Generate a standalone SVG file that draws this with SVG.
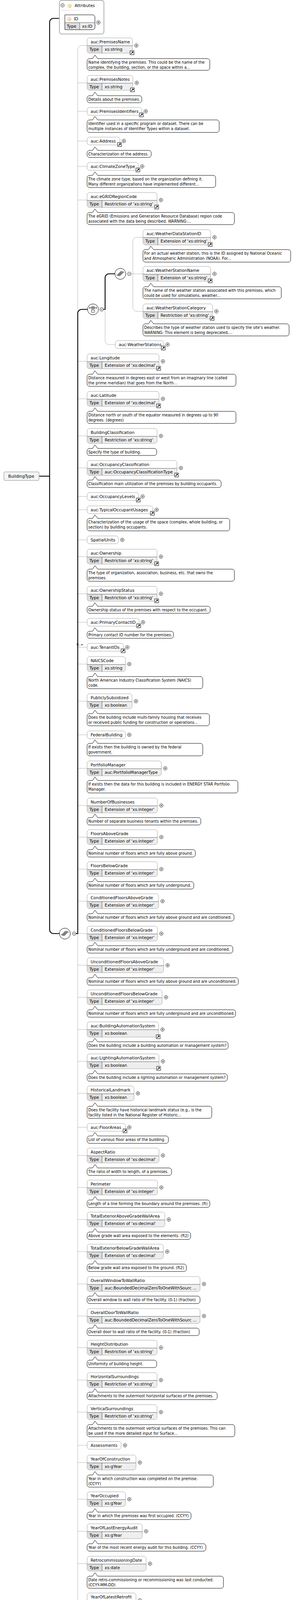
<svg xmlns="http://www.w3.org/2000/svg" width="750" height="4682" viewBox="0 0 750 4682">
<style>
.f{fill:#eeeeee}.w{fill:#ffffff}.tc{fill:#dedede}.o{fill:none;stroke:#a4a4a4;stroke-width:1}
.dv{fill:none;stroke:#333;stroke-width:.8}.s{fill:#fff;stroke:#a4a4a4;stroke-width:1}
.bb{fill:#fff;stroke:#000;stroke-width:1}
.n{font-family:"DejaVu Sans",sans-serif;font-size:10.5px;fill:#000}
.d{font-family:"DejaVu Sans",sans-serif;font-size:9.6px;fill:#000}
.at{font-family:"DejaVu Sans",sans-serif;font-size:11px;fill:#e9a13b}
.cg{fill:none;stroke:#b4b4b4;stroke-width:1}
.ck{fill:none;stroke:#000;stroke-width:2.2}
.ic{fill:#9a9a9a;stroke:#222;stroke-width:.7}
</style>
<defs>
<linearGradient id="sep" x1="0" x2="1" y1="0" y2="0"><stop offset="0" stop-color="#e4e4e4"/><stop offset="1" stop-color="#ffffff"/></linearGradient>
<g id="pl"><circle r="4.5" fill="#fff" stroke="#000" stroke-width=".9"/><path d="M-2.4 0H2.4M0-2.4V2.4" stroke="#000" stroke-width=".9"/></g>
<g id="mi"><circle r="4.5" fill="#fff" stroke="#000" stroke-width=".9"/><path d="M-2.4 0H2.4" stroke="#000" stroke-width=".9"/></g>
<g id="lk"><rect width="10" height="10" fill="#fff" stroke="#000" stroke-width="1"/><path d="M2.3 7.7L6.3 3.7" stroke="#000" stroke-width="1.6"/><path d="M3.8 2H8V6.2Z" fill="#000"/></g>
<g id="sq"><circle r="14" fill="#fff" stroke="#000" stroke-width="1"/><path d="M-10 3H-6M6-4H10" stroke="#000" stroke-width="1"/><rect class="ic" x="-6" y="0" width="6" height="5"/><rect class="ic" x="-3" y="-3" width="6" height="5"/><rect class="ic" x="0" y="-6" width="6" height="5"/></g>
<g id="ch"><circle r="14" fill="#fff" stroke="#000" stroke-width="1"/><path d="M-9-4H9M-9-6.5V-1.5M9-6.5V-1.5" stroke="#000" stroke-width="1"/><rect class="ic" x="-3.5" y="-7" width="7" height="6"/><rect x="-3.5" y="1.5" width="7" height="6" fill="#fff" stroke="#000" stroke-width=".8"/></g>
</defs>
<rect width="750" height="4682" fill="#fff"/>

<g id="connectors">
<path class="cg" d="M223 116.5H209a10 10 0 0 0-10 10V4656a10 10 0 0 0 10 10H223"/>
<path class="cg" d="M199 212H223M199 285H223M199 361H223M199 426H223M199 512H223M199 925H223M199 1021H223M199 1116H223M199 1198H223M199 1271H223M199 1305H223M199 1382H223M199 1425H223M199 1520H223M199 1593H223M199 1657H223M199 1700H223M199 1795H223M199 1881H223M199 1967H223M199 2062H223M199 2143H223M199 2225H223M199 2307H223M199 2390H223M199 2471H223M199 2553H223M199 2635.5H223M199 2717H223M199 2799H223M199 2886H223M199 2958H223M199 3040H223M199 3122H223M199 3204H223M199 3287H223M199 3369H223M199 3450H223M199 3533H223M199 3615H223M199 3700H223M199 3744H223M199 3838H223M199 3920H223M199 4003H223M199 4097H223M199 4192H223M199 4287H223M199 4382H223M199 4477H223M199 4559H223M199 4633H223"/>
<path class="cg" d="M269 792V872a10 10 0 0 0 10 10H295"/>
<path class="cg" d="M366 607.5H350a10 10 0 0 0-10 10V787a10 10 0 0 0 10 10H366M335.5 701H366"/>
<path class="ck" d="M152 47H137a10 10 0 0 0-10 10V2380a10 10 0 0 0 10 10H152"/>
<path class="ck" d="M100 1219H127"/>
<path class="ck" d="M194.5 2390H199V802a10 10 0 0 1 10-10H224"/>
<path class="ck" d="M264.5 792H269V711a10 10 0 0 1 10-10H294"/>
</g>

<g id="BuildingType">
<rect x="10" y="1208" width="90" height="22" rx="3" fill="#f4f4f4" stroke="#888" stroke-width="1"/>
<text class="n" x="21" y="1223">BuildingType</text>
</g>

<g id="Attributes">
<rect x="152" y="1" width="114" height="86" rx="6" fill="#fff" stroke="#b0b0b0" stroke-width="2"/>
<use href="#mi" x="160" y="13.5"/>
<text class="at" x="173" y="18">@</text>
<text class="n" x="191" y="18">Attributes</text>
<rect x="157" y="25.5" width="84" height="2" fill="url(#sep)"/>
<path d="M166 38H237a6 6 0 0 1 6 6V70a6 6 0 0 1-6 6H166Z" fill="#eee"/>
<rect x="166" y="38" width="77" height="20" fill="#fff"/>
<rect x="166.5" y="58" width="37.5" height="17.5" class="tc"/>
<path d="M166 38H237a6 6 0 0 1 6 6V70a6 6 0 0 1-6 6H166Z" fill="none" stroke="#000" stroke-width="1"/>
<path class="dv" d="M166 58H243M204 58V76"/>
<text class="at" x="172" y="52">@</text>
<text class="n" x="189" y="52">ID</text>
<text class="n" x="171" y="71">Type</text>
<text class="n" x="210" y="71">xs:ID</text>
<use href="#pl" x="252" y="57.5"/>
</g>

<g id="compositors">
<use href="#sq" x="166" y="2390"/><use href="#mi" x="190" y="2390"/>
<use href="#ch" x="238" y="792"/><use href="#mi" x="260" y="792"/>
<use href="#sq" x="308" y="701"/><use href="#mi" x="331" y="701"/>
<text class="d" x="196" y="1653" style="font-size:8px">0..∞</text>
</g>

<g id="PremisesName">
<rect class="f" x="223" y="97" width="116" height="39" rx="6"/><rect class="w" x="223" y="97" width="116" height="20"/><path class="tc" d="M223.5 117h37.5v18.5h-31.5a6 6 0 0 1-6-6z"/><rect class="o" x="223" y="97" width="116" height="39" rx="6"/><path class="dv" d="M223 117H339M261 117V136"/>
<text class="n" x="232" y="111">auc:PremisesName</text><text class="n" x="229" y="130">Type</text><text class="n" x="268" y="130">xs:string</text>
<use href="#pl" x="349" y="116.5"/><use href="#lk" x="333" y="130"/>
<path class="bb" d="M229 150h8l6-9l7 9h281a6 6 0 0 1 6 6v18a6 6 0 0 1-6 6h-302a6 6 0 0 1-6-6v-18a6 6 0 0 1 6-6z"/>
<text class="d" x="226" y="163">Name identifying the premises. This could be the name of the</text><text class="d" x="226" y="176">complex, the building, section, or the space within a...</text>
</g>

<g id="PremisesNotes">
<rect class="f" x="223" y="193" width="117" height="38" rx="6"/><rect class="w" x="223" y="193" width="117" height="20"/><path class="tc" d="M223.5 213h37.5v17.5h-31.5a6 6 0 0 1-6-6z"/><rect class="o" x="223" y="193" width="117" height="38" rx="6"/><path class="dv" d="M223 213H340M261 213V231"/>
<text class="n" x="232" y="207">auc:PremisesNotes</text><text class="n" x="229" y="226">Type</text><text class="n" x="268" y="226">xs:string</text>
<use href="#pl" x="350" y="212"/><use href="#lk" x="334" y="225"/>
<path class="bb" d="M229 245h8l6-9l7 9h107a6 6 0 0 1 6 6v6a6 6 0 0 1-6 6h-128a6 6 0 0 1-6-6v-6a6 6 0 0 1 6-6z"/>
<text class="d" x="226" y="258">Details about the premises.</text>
</g>

<g id="PremisesIdentifiers">
<rect class="s" x="223" y="275" width="140" height="20" rx="6"/>
<text class="n" x="232" y="289">auc:PremisesIdentifiers</text>
<use href="#pl" x="373" y="285"/><use href="#lk" x="357" y="289"/>
<path class="bb" d="M229 307h8l6-9l7 9h305a6 6 0 0 1 6 6v20a6 6 0 0 1-6 6h-326a6 6 0 0 1-6-6v-20a6 6 0 0 1 6-6z"/>
<text class="d" x="226" y="320">Identifier used in a specific program or dataset. There can be</text><text class="d" x="226" y="333">multiple instances of Identifier Types within a dataset.</text>
</g>

<g id="Address">
<rect class="s" x="223" y="351" width="84" height="20" rx="6"/>
<text class="n" x="232" y="365">auc:Address</text>
<use href="#pl" x="317" y="361"/><use href="#lk" x="301" y="365"/>
<path class="bb" d="M229 385h8l6-9l7 9h131a6 6 0 0 1 6 6v6a6 6 0 0 1-6 6h-152a6 6 0 0 1-6-6v-6a6 6 0 0 1 6-6z"/>
<text class="d" x="226" y="398">Characterization of the address.</text>
</g>

<g id="ClimateZoneType">
<rect class="s" x="223" y="416" width="131" height="20" rx="6"/>
<text class="n" x="232" y="430">auc:ClimateZoneType</text>
<use href="#pl" x="364" y="426"/><use href="#lk" x="348" y="430"/>
<path class="bb" d="M229 449h8l6-9l7 9h296a6 6 0 0 1 6 6v19a6 6 0 0 1-6 6h-317a6 6 0 0 1-6-6v-19a6 6 0 0 1 6-6z"/>
<text class="d" x="226" y="462">The climate zone type, based on the organization defining it.</text><text class="d" x="226" y="475">Many different organizations have implemented different...</text>
</g>

<g id="eGRIDRegionCode">
<rect class="f" x="223" y="493" width="179" height="38" rx="6"/><rect class="w" x="223" y="493" width="179" height="20"/><path class="tc" d="M223.5 513h37.5v17.5h-31.5a6 6 0 0 1-6-6z"/><rect class="o" x="223" y="493" width="179" height="38" rx="6"/><path class="dv" d="M223 513H402M261 513V531"/>
<text class="n" x="232" y="507">auc:eGRIDRegionCode</text><text class="n" x="229" y="526">Type</text><text class="n" x="268" y="526">Restriction of 'xs:string'</text>
<use href="#pl" x="412" y="512"/><use href="#lk" x="396" y="525"/>
<path class="bb" d="M229 544h8l6-9l7 9h344a6 6 0 0 1 6 6v19a6 6 0 0 1-6 6h-365a6 6 0 0 1-6-6v-19a6 6 0 0 1 6-6z"/>
<text class="d" x="226" y="557">The eGRID (Emissions and Generation Resource Database) region code</text><text class="d" x="226" y="570">associated with the data being described. WARNING:...</text>
</g>

<g id="WeatherDataStationID">
<rect class="f" x="366" y="588" width="173" height="39" rx="6"/><rect class="w" x="366" y="588" width="173" height="20"/><path class="tc" d="M366.5 608h37.5v18.5h-31.5a6 6 0 0 1-6-6z"/><rect class="o" x="366" y="588" width="173" height="39" rx="6"/><path class="dv" d="M366 608H539M404 608V627"/>
<text class="n" x="375" y="602">auc:WeatherDataStationID</text><text class="n" x="372" y="621">Type</text><text class="n" x="411" y="621">Extension of 'xs:string'</text>
<use href="#pl" x="549" y="607.5"/><use href="#lk" x="533" y="621"/>
<path class="bb" d="M372 639h8l6-9l7 9h345a6 6 0 0 1 6 6v20a6 6 0 0 1-6 6h-366a6 6 0 0 1-6-6v-20a6 6 0 0 1 6-6z"/>
<text class="d" x="369" y="652">For an actual weather station, this is the ID assigned by National Oceanic</text><text class="d" x="369" y="665">and Atmospheric Administration (NOAA). For...</text>
</g>

<g id="WeatherStationName">
<rect class="f" x="366" y="682" width="173" height="38" rx="6"/><rect class="w" x="366" y="682" width="173" height="20"/><path class="tc" d="M366.5 702h37.5v17.5h-31.5a6 6 0 0 1-6-6z"/><rect class="o" x="366" y="682" width="173" height="38" rx="6"/><path class="dv" d="M366 702H539M404 702V720"/>
<text class="n" x="375" y="696">auc:WeatherStationName</text><text class="n" x="372" y="715">Type</text><text class="n" x="411" y="715">Extension of 'xs:string'</text>
<use href="#pl" x="549" y="701"/><use href="#lk" x="533" y="714"/>
<path class="bb" d="M372 734h8l6-9l7 9h321a6 6 0 0 1 6 6v19a6 6 0 0 1-6 6h-342a6 6 0 0 1-6-6v-19a6 6 0 0 1 6-6z"/>
<text class="d" x="369" y="747">The name of the weather station associated with this premises, which</text><text class="d" x="369" y="760">could be used for simulations, weather...</text>
</g>

<g id="WeatherStationCategory">
<rect class="f" x="366" y="778" width="178" height="38" rx="6"/><rect class="w" x="366" y="778" width="178" height="20"/><path class="tc" d="M366.5 798h37.5v17.5h-31.5a6 6 0 0 1-6-6z"/><rect class="o" x="366" y="778" width="178" height="38" rx="6"/><path class="dv" d="M366 798H544M404 798V816"/>
<text class="n" x="375" y="792">auc:WeatherStationCategory</text><text class="n" x="372" y="811">Type</text><text class="n" x="411" y="811">Restriction of 'xs:string'</text>
<use href="#pl" x="554" y="797"/><use href="#lk" x="538" y="810"/>
<path class="bb" d="M372 829h8l6-9l7 9h341a6 6 0 0 1 6 6v19a6 6 0 0 1-6 6h-362a6 6 0 0 1-6-6v-19a6 6 0 0 1 6-6z"/>
<text class="d" x="369" y="842">Describes the type of weather station used to specify the site's weather.</text><text class="d" x="369" y="855">WARNING: This element is being deprecated,...</text>
</g>

<g id="WeatherStations">
<rect class="s" x="295" y="872" width="124" height="20" rx="6"/>
<text class="n" x="304" y="886">auc:WeatherStations</text>
<use href="#pl" x="429" y="882"/><use href="#lk" x="413" y="886"/>
</g>

<g id="Longitude">
<rect class="f" x="223" y="906" width="184" height="38" rx="6"/><rect class="w" x="223" y="906" width="184" height="20"/><path class="tc" d="M223.5 926h37.5v17.5h-31.5a6 6 0 0 1-6-6z"/><rect class="o" x="223" y="906" width="184" height="38" rx="6"/><path class="dv" d="M223 926H407M261 926V944"/>
<text class="n" x="232" y="920">auc:Longitude</text><text class="n" x="229" y="939">Type</text><text class="n" x="268" y="939">Extension of 'xs:decimal'</text>
<use href="#pl" x="417" y="925"/><use href="#lk" x="401" y="938"/>
<path class="bb" d="M229 958h8l6-9l7 9h348a6 6 0 0 1 6 6v19a6 6 0 0 1-6 6h-369a6 6 0 0 1-6-6v-19a6 6 0 0 1 6-6z"/>
<text class="d" x="226" y="971">Distance measured in degrees east or west from an imaginary line (called</text><text class="d" x="226" y="984">the prime meridian) that goes from the North...</text>
</g>

<g id="Latitude">
<rect class="f" x="223" y="1002" width="184" height="38" rx="6"/><rect class="w" x="223" y="1002" width="184" height="20"/><path class="tc" d="M223.5 1022h37.5v17.5h-31.5a6 6 0 0 1-6-6z"/><rect class="o" x="223" y="1002" width="184" height="38" rx="6"/><path class="dv" d="M223 1022H407M261 1022V1040"/>
<text class="n" x="232" y="1016">auc:Latitude</text><text class="n" x="229" y="1035">Type</text><text class="n" x="268" y="1035">Extension of 'xs:decimal'</text>
<use href="#pl" x="417" y="1021"/><use href="#lk" x="401" y="1034"/>
<path class="bb" d="M229 1053h8l6-9l7 9h348a6 6 0 0 1 6 6v19a6 6 0 0 1-6 6h-369a6 6 0 0 1-6-6v-19a6 6 0 0 1 6-6z"/>
<text class="d" x="226" y="1066">Distance north or south of the equator measured in degrees up to 90</text><text class="d" x="226" y="1079">degrees. (degrees)</text>
</g>

<g id="BuildingClassification">
<rect class="f" x="223" y="1097" width="179" height="38" rx="6"/><rect class="w" x="223" y="1097" width="179" height="20"/><path class="tc" d="M223.5 1117h37.5v17.5h-31.5a6 6 0 0 1-6-6z"/><rect class="o" x="223" y="1097" width="179" height="38" rx="6"/><path class="dv" d="M223 1117H402M261 1117V1135"/>
<text class="n" x="232" y="1111">BuildingClassification</text><text class="n" x="229" y="1130">Type</text><text class="n" x="268" y="1130">Restriction of 'xs:string'</text>
<use href="#pl" x="412" y="1116"/>
<path class="bb" d="M229 1148h8l6-9l7 9h145a6 6 0 0 1 6 6v6a6 6 0 0 1-6 6h-166a6 6 0 0 1-6-6v-6a6 6 0 0 1 6-6z"/>
<text class="d" x="226" y="1161">Specify the type of building.</text>
</g>

<g id="OccupancyClassification">
<rect class="f" x="223" y="1179" width="230" height="38" rx="6"/><rect class="w" x="223" y="1179" width="230" height="20"/><path class="tc" d="M223.5 1199h37.5v17.5h-31.5a6 6 0 0 1-6-6z"/><rect class="o" x="223" y="1179" width="230" height="38" rx="6"/><path class="dv" d="M223 1199H453M261 1199V1217"/>
<text class="n" x="232" y="1193">auc:OccupancyClassification</text><text class="n" x="229" y="1212">Type</text><text class="n" x="268" y="1212">auc:OccupancyClassificationType</text>
<use href="#pl" x="463" y="1198"/><use href="#lk" x="447" y="1211"/>
<path class="bb" d="M229 1229h8l6-9l7 9h310a6 6 0 0 1 6 6v7a6 6 0 0 1-6 6h-331a6 6 0 0 1-6-6v-7a6 6 0 0 1 6-6z"/>
<text class="d" x="226" y="1242">Classification main utilization of the premises by building occupants.</text>
</g>

<g id="OccupancyLevels">
<rect class="s" x="223" y="1261" width="132" height="20" rx="6"/>
<text class="n" x="232" y="1275">auc:OccupancyLevels</text>
<use href="#pl" x="365" y="1271"/><use href="#lk" x="349" y="1275"/>
</g>

<g id="TypicalOccupantUsages">
<rect class="s" x="223" y="1295" width="168" height="20" rx="6"/>
<text class="n" x="232" y="1309">auc:TypicalOccupantUsages</text>
<use href="#pl" x="401" y="1305"/><use href="#lk" x="385" y="1309"/>
<path class="bb" d="M229 1327h8l6-9l7 9h332a6 6 0 0 1 6 6v20a6 6 0 0 1-6 6h-353a6 6 0 0 1-6-6v-20a6 6 0 0 1 6-6z"/>
<text class="d" x="226" y="1340">Characterization of the usage of the space (complex, whole building, or</text><text class="d" x="226" y="1353">section) by building occupants.</text>
</g>

<g id="SpatialUnits">
<rect class="s" x="223" y="1372" width="80" height="20" rx="6"/>
<text class="n" x="232" y="1386">SpatialUnits</text>
<use href="#pl" x="313" y="1382"/>
</g>

<g id="Ownership">
<rect class="f" x="223" y="1406" width="179" height="38" rx="6"/><rect class="w" x="223" y="1406" width="179" height="20"/><path class="tc" d="M223.5 1426h37.5v17.5h-31.5a6 6 0 0 1-6-6z"/><rect class="o" x="223" y="1406" width="179" height="38" rx="6"/><path class="dv" d="M223 1426H402M261 1426V1444"/>
<text class="n" x="232" y="1420">auc:Ownership</text><text class="n" x="229" y="1439">Type</text><text class="n" x="268" y="1439">Restriction of 'xs:string'</text>
<use href="#pl" x="412" y="1425"/><use href="#lk" x="396" y="1438"/>
<path class="bb" d="M229 1457h8l6-9l7 9h344a6 6 0 0 1 6 6v19a6 6 0 0 1-6 6h-365a6 6 0 0 1-6-6v-19a6 6 0 0 1 6-6z"/>
<text class="d" x="226" y="1470">The type of organization, association, business, etc. that owns the</text><text class="d" x="226" y="1483">premises.</text>
</g>

<g id="OwnershipStatus">
<rect class="f" x="223" y="1501" width="179" height="38" rx="6"/><rect class="w" x="223" y="1501" width="179" height="20"/><path class="tc" d="M223.5 1521h37.5v17.5h-31.5a6 6 0 0 1-6-6z"/><rect class="o" x="223" y="1501" width="179" height="38" rx="6"/><path class="dv" d="M223 1521H402M261 1521V1539"/>
<text class="n" x="232" y="1515">auc:OwnershipStatus</text><text class="n" x="229" y="1534">Type</text><text class="n" x="268" y="1534">Restriction of 'xs:string'</text>
<use href="#pl" x="412" y="1520"/><use href="#lk" x="396" y="1533"/>
<path class="bb" d="M229 1552h8l6-9l7 9h282a6 6 0 0 1 6 6v6a6 6 0 0 1-6 6h-303a6 6 0 0 1-6-6v-6a6 6 0 0 1 6-6z"/>
<text class="d" x="226" y="1565">Ownership status of the premises with respect to the occupant.</text>
</g>

<g id="PrimaryContactID">
<rect class="s" x="223" y="1583" width="133" height="20" rx="6"/>
<text class="n" x="232" y="1597">auc:PrimaryContactID</text>
<use href="#pl" x="366" y="1593"/><use href="#lk" x="350" y="1597"/>
<path class="bb" d="M229 1616h8l6-9l7 9h188a6 6 0 0 1 6 6v6a6 6 0 0 1-6 6h-209a6 6 0 0 1-6-6v-6a6 6 0 0 1 6-6z"/>
<text class="d" x="226" y="1629">Primary contact ID number for the premises.</text>
</g>

<g id="TenantIDs">
<rect class="s" x="223" y="1647" width="93" height="20" rx="6"/>
<text class="n" x="232" y="1661">auc:TenantIDs</text>
<use href="#pl" x="326" y="1657"/><use href="#lk" x="310" y="1661"/>
</g>

<g id="NAICSCode">
<rect class="f" x="223" y="1681" width="98" height="38" rx="6"/><rect class="w" x="223" y="1681" width="98" height="20"/><path class="tc" d="M223.5 1701h37.5v17.5h-31.5a6 6 0 0 1-6-6z"/><rect class="o" x="223" y="1681" width="98" height="38" rx="6"/><path class="dv" d="M223 1701H321M261 1701V1719"/>
<text class="n" x="232" y="1695">NAICSCode</text><text class="n" x="229" y="1714">Type</text><text class="n" x="268" y="1714">xs:string</text>
<use href="#pl" x="331" y="1700"/>
<path class="bb" d="M229 1732h8l6-9l7 9h263a6 6 0 0 1 6 6v19a6 6 0 0 1-6 6h-284a6 6 0 0 1-6-6v-19a6 6 0 0 1 6-6z"/>
<text class="d" x="226" y="1745">North American Industry Classification System (NAICS)</text><text class="d" x="226" y="1758">code.</text>
</g>

<g id="PubliclySubsidized">
<rect class="f" x="223" y="1776" width="115" height="38" rx="6"/><rect class="w" x="223" y="1776" width="115" height="20"/><path class="tc" d="M223.5 1796h37.5v17.5h-31.5a6 6 0 0 1-6-6z"/><rect class="o" x="223" y="1776" width="115" height="38" rx="6"/><path class="dv" d="M223 1796H338M261 1796V1814"/>
<text class="n" x="232" y="1790">PubliclySubsidized</text><text class="n" x="229" y="1809">Type</text><text class="n" x="268" y="1809">xs:boolean</text>
<use href="#pl" x="348" y="1795"/>
<path class="bb" d="M229 1827h8l6-9l7 9h280a6 6 0 0 1 6 6v19a6 6 0 0 1-6 6h-301a6 6 0 0 1-6-6v-19a6 6 0 0 1 6-6z"/>
<text class="d" x="226" y="1840">Does the building include multi-family housing that receives</text><text class="d" x="226" y="1853">or received public funding for construction or operations...</text>
</g>

<g id="FederalBuilding">
<rect class="s" x="223" y="1871" width="98" height="20" rx="6"/>
<text class="n" x="232" y="1885">FederalBuilding</text>
<use href="#pl" x="331" y="1881"/>
<path class="bb" d="M229 1903h8l6-9l7 9h263a6 6 0 0 1 6 6v20a6 6 0 0 1-6 6h-284a6 6 0 0 1-6-6v-20a6 6 0 0 1 6-6z"/>
<text class="d" x="226" y="1916">If exists then the building is owned by the federal</text><text class="d" x="226" y="1929">government.</text>
</g>

<g id="PortfolioManager">
<rect class="f" x="223" y="1948" width="190" height="38" rx="6"/><rect class="w" x="223" y="1948" width="190" height="20"/><path class="tc" d="M223.5 1968h37.5v17.5h-31.5a6 6 0 0 1-6-6z"/><rect class="o" x="223" y="1948" width="190" height="38" rx="6"/><path class="dv" d="M223 1968H413M261 1968V1986"/>
<text class="n" x="232" y="1962">PortfolioManager</text><text class="n" x="229" y="1981">Type</text><text class="n" x="268" y="1981">auc:PortfolioManagerType</text>
<use href="#pl" x="423" y="1967"/>
<path class="bb" d="M229 1998h8l6-9l7 9h353a6 6 0 0 1 6 6v20a6 6 0 0 1-6 6h-374a6 6 0 0 1-6-6v-20a6 6 0 0 1 6-6z"/>
<text class="d" x="226" y="2011">If exists then the data for this building is included in ENERGY STAR Portfolio</text><text class="d" x="226" y="2024">Manager.</text>
</g>

<g id="NumberOfBusinesses">
<rect class="f" x="223" y="2043" width="180" height="38" rx="6"/><rect class="w" x="223" y="2043" width="180" height="20"/><path class="tc" d="M223.5 2063h37.5v17.5h-31.5a6 6 0 0 1-6-6z"/><rect class="o" x="223" y="2043" width="180" height="38" rx="6"/><path class="dv" d="M223 2063H403M261 2063V2081"/>
<text class="n" x="232" y="2057">NumberOfBusinesses</text><text class="n" x="229" y="2076">Type</text><text class="n" x="268" y="2076">Extension of 'xs:integer'</text>
<use href="#pl" x="413" y="2062"/>
<path class="bb" d="M229 2093h8l6-9l7 9h258a6 6 0 0 1 6 6v7a6 6 0 0 1-6 6h-279a6 6 0 0 1-6-6v-7a6 6 0 0 1 6-6z"/>
<text class="d" x="226" y="2106">Number of separate business tenants within the premises.</text>
</g>

<g id="FloorsAboveGrade">
<rect class="f" x="223" y="2124" width="180" height="38" rx="6"/><rect class="w" x="223" y="2124" width="180" height="20"/><path class="tc" d="M223.5 2144h37.5v17.5h-31.5a6 6 0 0 1-6-6z"/><rect class="o" x="223" y="2124" width="180" height="38" rx="6"/><path class="dv" d="M223 2144H403M261 2144V2162"/>
<text class="n" x="232" y="2138">FloorsAboveGrade</text><text class="n" x="229" y="2157">Type</text><text class="n" x="268" y="2157">Extension of 'xs:integer'</text>
<use href="#pl" x="413" y="2143"/>
<path class="bb" d="M229 2175h8l6-9l7 9h244a6 6 0 0 1 6 6v7a6 6 0 0 1-6 6h-265a6 6 0 0 1-6-6v-7a6 6 0 0 1 6-6z"/>
<text class="d" x="226" y="2188">Nominal number of floors which are fully above ground.</text>
</g>

<g id="FloorsBelowGrade">
<rect class="f" x="223" y="2206" width="180" height="38" rx="6"/><rect class="w" x="223" y="2206" width="180" height="20"/><path class="tc" d="M223.5 2226h37.5v17.5h-31.5a6 6 0 0 1-6-6z"/><rect class="o" x="223" y="2206" width="180" height="38" rx="6"/><path class="dv" d="M223 2226H403M261 2226V2244"/>
<text class="n" x="232" y="2220">FloorsBelowGrade</text><text class="n" x="229" y="2239">Type</text><text class="n" x="268" y="2239">Extension of 'xs:integer'</text>
<use href="#pl" x="413" y="2225"/>
<path class="bb" d="M229 2257h8l6-9l7 9h240a6 6 0 0 1 6 6v7a6 6 0 0 1-6 6h-261a6 6 0 0 1-6-6v-7a6 6 0 0 1 6-6z"/>
<text class="d" x="226" y="2270">Nominal number of floors which are fully underground.</text>
</g>

<g id="ConditionedFloorsAboveGrade">
<rect class="f" x="223" y="2288" width="183" height="38" rx="6"/><rect class="w" x="223" y="2288" width="183" height="20"/><path class="tc" d="M223.5 2308h37.5v17.5h-31.5a6 6 0 0 1-6-6z"/><rect class="o" x="223" y="2288" width="183" height="38" rx="6"/><path class="dv" d="M223 2308H406M261 2308V2326"/>
<text class="n" x="232" y="2302">ConditionedFloorsAboveGrade</text><text class="n" x="229" y="2321">Type</text><text class="n" x="268" y="2321">Extension of 'xs:integer'</text>
<use href="#pl" x="416" y="2307"/>
<path class="bb" d="M229 2339h8l6-9l7 9h343a6 6 0 0 1 6 6v7a6 6 0 0 1-6 6h-364a6 6 0 0 1-6-6v-7a6 6 0 0 1 6-6z"/>
<text class="d" x="226" y="2352">Nominal number of floors which are fully above ground and are conditioned.</text>
</g>

<g id="ConditionedFloorsBelowGrade">
<rect class="f" x="223" y="2371" width="180" height="38" rx="6"/><rect class="w" x="223" y="2371" width="180" height="20"/><path class="tc" d="M223.5 2391h37.5v17.5h-31.5a6 6 0 0 1-6-6z"/><rect class="o" x="223" y="2371" width="180" height="38" rx="6"/><path class="dv" d="M223 2391H403M261 2391V2409"/>
<text class="n" x="232" y="2385">ConditionedFloorsBelowGrade</text><text class="n" x="229" y="2404">Type</text><text class="n" x="268" y="2404">Extension of 'xs:integer'</text>
<use href="#pl" x="413" y="2390"/>
<path class="bb" d="M229 2421h8l6-9l7 9h340a6 6 0 0 1 6 6v7a6 6 0 0 1-6 6h-361a6 6 0 0 1-6-6v-7a6 6 0 0 1 6-6z"/>
<text class="d" x="226" y="2434">Nominal number of floors which are fully underground and are conditioned.</text>
</g>

<g id="UnconditionedFloorsAboveGrade">
<rect class="f" x="223" y="2452" width="196" height="38" rx="6"/><rect class="w" x="223" y="2452" width="196" height="20"/><path class="tc" d="M223.5 2472h37.5v17.5h-31.5a6 6 0 0 1-6-6z"/><rect class="o" x="223" y="2452" width="196" height="38" rx="6"/><path class="dv" d="M223 2472H419M261 2472V2490"/>
<text class="n" x="232" y="2466">UnconditionedFloorsAboveGrade</text><text class="n" x="229" y="2485">Type</text><text class="n" x="268" y="2485">Extension of 'xs:integer'</text>
<use href="#pl" x="429" y="2471"/>
<path class="bb" d="M229 2503h8l6-9l7 9h354a6 6 0 0 1 6 6v7a6 6 0 0 1-6 6h-375a6 6 0 0 1-6-6v-7a6 6 0 0 1 6-6z"/>
<text class="d" x="226" y="2516">Nominal number of floors which are fully above ground and are unconditioned.</text>
</g>

<g id="UnconditionedFloorsBelowGrade">
<rect class="f" x="223" y="2534" width="192" height="38" rx="6"/><rect class="w" x="223" y="2534" width="192" height="20"/><path class="tc" d="M223.5 2554h37.5v17.5h-31.5a6 6 0 0 1-6-6z"/><rect class="o" x="223" y="2534" width="192" height="38" rx="6"/><path class="dv" d="M223 2554H415M261 2554V2572"/>
<text class="n" x="232" y="2548">UnconditionedFloorsBelowGrade</text><text class="n" x="229" y="2567">Type</text><text class="n" x="268" y="2567">Extension of 'xs:integer'</text>
<use href="#pl" x="425" y="2553"/>
<path class="bb" d="M229 2585h8l6-9l7 9h347a6 6 0 0 1 6 6v7a6 6 0 0 1-6 6h-368a6 6 0 0 1-6-6v-7a6 6 0 0 1 6-6z"/>
<text class="d" x="226" y="2598">Nominal number of floors which are fully underground and are unconditioned.</text>
</g>

<g id="BuildingAutomationSystem">
<rect class="f" x="223" y="2616" width="183" height="39" rx="6"/><rect class="w" x="223" y="2616" width="183" height="20"/><path class="tc" d="M223.5 2636h37.5v18.5h-31.5a6 6 0 0 1-6-6z"/><rect class="o" x="223" y="2616" width="183" height="39" rx="6"/><path class="dv" d="M223 2636H406M261 2636V2655"/>
<text class="n" x="232" y="2630">auc:BuildingAutomationSystem</text><text class="n" x="229" y="2649">Type</text><text class="n" x="268" y="2649">xs:boolean</text>
<use href="#pl" x="416" y="2635.5"/><use href="#lk" x="400" y="2649"/>
<path class="bb" d="M229 2667h8l6-9l7 9h328a6 6 0 0 1 6 6v7a6 6 0 0 1-6 6h-349a6 6 0 0 1-6-6v-7a6 6 0 0 1 6-6z"/>
<text class="d" x="226" y="2680">Does the building include a building automation or management system?</text>
</g>

<g id="LightingAutomationSystem">
<rect class="f" x="223" y="2698" width="184" height="38" rx="6"/><rect class="w" x="223" y="2698" width="184" height="20"/><path class="tc" d="M223.5 2718h37.5v17.5h-31.5a6 6 0 0 1-6-6z"/><rect class="o" x="223" y="2698" width="184" height="38" rx="6"/><path class="dv" d="M223 2718H407M261 2718V2736"/>
<text class="n" x="232" y="2712">auc:LightingAutomationSystem</text><text class="n" x="229" y="2731">Type</text><text class="n" x="268" y="2731">xs:boolean</text>
<use href="#pl" x="417" y="2717"/><use href="#lk" x="401" y="2730"/>
<path class="bb" d="M229 2749h8l6-9l7 9h326a6 6 0 0 1 6 6v7a6 6 0 0 1-6 6h-347a6 6 0 0 1-6-6v-7a6 6 0 0 1 6-6z"/>
<text class="d" x="226" y="2762">Does the building include a lighting automation or management system?</text>
</g>

<g id="HistoricalLandmark">
<rect class="f" x="223" y="2780" width="120" height="38" rx="6"/><rect class="w" x="223" y="2780" width="120" height="20"/><path class="tc" d="M223.5 2800h37.5v17.5h-31.5a6 6 0 0 1-6-6z"/><rect class="o" x="223" y="2780" width="120" height="38" rx="6"/><path class="dv" d="M223 2800H343M261 2800V2818"/>
<text class="n" x="232" y="2794">HistoricalLandmark</text><text class="n" x="229" y="2813">Type</text><text class="n" x="268" y="2813">xs:boolean</text>
<use href="#pl" x="353" y="2799"/>
<path class="bb" d="M229 2832h8l6-9l7 9h286a6 6 0 0 1 6 6v19a6 6 0 0 1-6 6h-307a6 6 0 0 1-6-6v-19a6 6 0 0 1 6-6z"/>
<text class="d" x="226" y="2845">Does the facility have historical landmark status (e.g., is the</text><text class="d" x="226" y="2858">facility listed in the National Register of Historic...</text>
</g>

<g id="FloorAreas">
<rect class="s" x="223" y="2876" width="98" height="20" rx="6"/>
<text class="n" x="232" y="2890">auc:FloorAreas</text>
<use href="#pl" x="331" y="2886"/><use href="#lk" x="315" y="2890"/>
<path class="bb" d="M229 2908h8l6-9l7 9h175a6 6 0 0 1 6 6v7a6 6 0 0 1-6 6h-196a6 6 0 0 1-6-6v-7a6 6 0 0 1 6-6z"/>
<text class="d" x="226" y="2921">List of various floor areas of the building.</text>
</g>

<g id="AspectRatio">
<rect class="f" x="223" y="2939" width="184" height="38" rx="6"/><rect class="w" x="223" y="2939" width="184" height="20"/><path class="tc" d="M223.5 2959h37.5v17.5h-31.5a6 6 0 0 1-6-6z"/><rect class="o" x="223" y="2939" width="184" height="38" rx="6"/><path class="dv" d="M223 2959H407M261 2959V2977"/>
<text class="n" x="232" y="2953">AspectRatio</text><text class="n" x="229" y="2972">Type</text><text class="n" x="268" y="2972">Extension of 'xs:decimal'</text>
<use href="#pl" x="417" y="2958"/>
<path class="bb" d="M229 2990h8l6-9l7 9h183a6 6 0 0 1 6 6v7a6 6 0 0 1-6 6h-204a6 6 0 0 1-6-6v-7a6 6 0 0 1 6-6z"/>
<text class="d" x="226" y="3003">The ratio of width to length, of a premises.</text>
</g>

<g id="Perimeter">
<rect class="f" x="223" y="3021" width="180" height="38" rx="6"/><rect class="w" x="223" y="3021" width="180" height="20"/><path class="tc" d="M223.5 3041h37.5v17.5h-31.5a6 6 0 0 1-6-6z"/><rect class="o" x="223" y="3021" width="180" height="38" rx="6"/><path class="dv" d="M223 3041H403M261 3041V3059"/>
<text class="n" x="232" y="3035">Perimeter</text><text class="n" x="229" y="3054">Type</text><text class="n" x="268" y="3054">Extension of 'xs:integer'</text>
<use href="#pl" x="413" y="3040"/>
<path class="bb" d="M229 3072h8l6-9l7 9h281a6 6 0 0 1 6 6v7a6 6 0 0 1-6 6h-302a6 6 0 0 1-6-6v-7a6 6 0 0 1 6-6z"/>
<text class="d" x="226" y="3085">Length of a line forming the boundary around the premises. (ft)</text>
</g>

<g id="TotalExteriorAboveGradeWallArea">
<rect class="f" x="223" y="3103" width="199" height="38" rx="6"/><rect class="w" x="223" y="3103" width="199" height="20"/><path class="tc" d="M223.5 3123h37.5v17.5h-31.5a6 6 0 0 1-6-6z"/><rect class="o" x="223" y="3103" width="199" height="38" rx="6"/><path class="dv" d="M223 3123H422M261 3123V3141"/>
<text class="n" x="232" y="3117">TotalExteriorAboveGradeWallArea</text><text class="n" x="229" y="3136">Type</text><text class="n" x="268" y="3136">Extension of 'xs:decimal'</text>
<use href="#pl" x="432" y="3122"/>
<path class="bb" d="M229 3154h8l6-9l7 9h232a6 6 0 0 1 6 6v7a6 6 0 0 1-6 6h-253a6 6 0 0 1-6-6v-7a6 6 0 0 1 6-6z"/>
<text class="d" x="226" y="3167">Above grade wall area exposed to the elements. (ft2)</text>
</g>

<g id="TotalExteriorBelowGradeWallArea">
<rect class="f" x="223" y="3185" width="195" height="38" rx="6"/><rect class="w" x="223" y="3185" width="195" height="20"/><path class="tc" d="M223.5 3205h37.5v17.5h-31.5a6 6 0 0 1-6-6z"/><rect class="o" x="223" y="3185" width="195" height="38" rx="6"/><path class="dv" d="M223 3205H418M261 3205V3223"/>
<text class="n" x="232" y="3199">TotalExteriorBelowGradeWallArea</text><text class="n" x="229" y="3218">Type</text><text class="n" x="268" y="3218">Extension of 'xs:decimal'</text>
<use href="#pl" x="428" y="3204"/>
<path class="bb" d="M229 3236h8l6-9l7 9h221a6 6 0 0 1 6 6v7a6 6 0 0 1-6 6h-242a6 6 0 0 1-6-6v-7a6 6 0 0 1 6-6z"/>
<text class="d" x="226" y="3249">Below grade wall area exposed to the ground. (ft2)</text>
</g>

<g id="OverallWindowToWallRatio">
<rect class="f" x="223" y="3268" width="289" height="38" rx="6"/><rect class="w" x="223" y="3268" width="289" height="20"/><path class="tc" d="M223.5 3288h37.5v17.5h-31.5a6 6 0 0 1-6-6z"/><rect class="o" x="223" y="3268" width="289" height="38" rx="6"/><path class="dv" d="M223 3288H512M261 3288V3306"/>
<text class="n" x="232" y="3282">OverallWindowToWallRatio</text><text class="n" x="229" y="3301">Type</text><text class="n" x="268" y="3301">auc:BoundedDecimalZeroToOneWithSourc ...</text>
<use href="#pl" x="522" y="3287"/>
<path class="bb" d="M229 3318h8l6-9l7 9h256a6 6 0 0 1 6 6v7a6 6 0 0 1-6 6h-277a6 6 0 0 1-6-6v-7a6 6 0 0 1 6-6z"/>
<text class="d" x="226" y="3331">Overall window to wall ratio of the facility. (0-1) (fraction)</text>
</g>

<g id="OverallDoorToWallRatio">
<rect class="f" x="223" y="3350" width="289" height="38" rx="6"/><rect class="w" x="223" y="3350" width="289" height="20"/><path class="tc" d="M223.5 3370h37.5v17.5h-31.5a6 6 0 0 1-6-6z"/><rect class="o" x="223" y="3350" width="289" height="38" rx="6"/><path class="dv" d="M223 3370H512M261 3370V3388"/>
<text class="n" x="232" y="3364">OverallDoorToWallRatio</text><text class="n" x="229" y="3383">Type</text><text class="n" x="268" y="3383">auc:BoundedDecimalZeroToOneWithSourc ...</text>
<use href="#pl" x="522" y="3369"/>
<path class="bb" d="M229 3400h8l6-9l7 9h254a6 6 0 0 1 6 6v7a6 6 0 0 1-6 6h-275a6 6 0 0 1-6-6v-7a6 6 0 0 1 6-6z"/>
<text class="d" x="226" y="3413">Overall door to wall ratio of the facility. (0-1) (fraction)</text>
</g>

<g id="HeightDistribution">
<rect class="f" x="223" y="3431" width="179" height="38" rx="6"/><rect class="w" x="223" y="3431" width="179" height="20"/><path class="tc" d="M223.5 3451h37.5v17.5h-31.5a6 6 0 0 1-6-6z"/><rect class="o" x="223" y="3431" width="179" height="38" rx="6"/><path class="dv" d="M223 3451H402M261 3451V3469"/>
<text class="n" x="232" y="3445">HeightDistribution</text><text class="n" x="229" y="3464">Type</text><text class="n" x="268" y="3464">Restriction of 'xs:string'</text>
<use href="#pl" x="412" y="3450"/>
<path class="bb" d="M229 3482h8l6-9l7 9h145a6 6 0 0 1 6 6v7a6 6 0 0 1-6 6h-166a6 6 0 0 1-6-6v-7a6 6 0 0 1 6-6z"/>
<text class="d" x="226" y="3495">Uniformity of building height.</text>
</g>

<g id="HorizontalSurroundings">
<rect class="f" x="223" y="3514" width="179" height="38" rx="6"/><rect class="w" x="223" y="3514" width="179" height="20"/><path class="tc" d="M223.5 3534h37.5v17.5h-31.5a6 6 0 0 1-6-6z"/><rect class="o" x="223" y="3514" width="179" height="38" rx="6"/><path class="dv" d="M223 3534H402M261 3534V3552"/>
<text class="n" x="232" y="3528">HorizontalSurroundings</text><text class="n" x="229" y="3547">Type</text><text class="n" x="268" y="3547">Restriction of 'xs:string'</text>
<use href="#pl" x="412" y="3533"/>
<path class="bb" d="M229 3564h8l6-9l7 9h300a6 6 0 0 1 6 6v7a6 6 0 0 1-6 6h-321a6 6 0 0 1-6-6v-7a6 6 0 0 1 6-6z"/>
<text class="d" x="226" y="3577">Attachments to the outermost horizontal surfaces of the premises.</text>
</g>

<g id="VerticalSurroundings">
<rect class="f" x="223" y="3596" width="179" height="38" rx="6"/><rect class="w" x="223" y="3596" width="179" height="20"/><path class="tc" d="M223.5 3616h37.5v17.5h-31.5a6 6 0 0 1-6-6z"/><rect class="o" x="223" y="3596" width="179" height="38" rx="6"/><path class="dv" d="M223 3616H402M261 3616V3634"/>
<text class="n" x="232" y="3610">VerticalSurroundings</text><text class="n" x="229" y="3629">Type</text><text class="n" x="268" y="3629">Restriction of 'xs:string'</text>
<use href="#pl" x="412" y="3615"/>
<path class="bb" d="M229 3647h8l6-9l7 9h345a6 6 0 0 1 6 6v19a6 6 0 0 1-6 6h-366a6 6 0 0 1-6-6v-19a6 6 0 0 1 6-6z"/>
<text class="d" x="226" y="3660">Attachments to the outermost vertical surfaces of the premises. This can</text><text class="d" x="226" y="3673">be used if the more detailed input for Surface...</text>
</g>

<g id="Assessments">
<rect class="s" x="223" y="3690" width="87" height="20" rx="6"/>
<text class="n" x="232" y="3704">Assessments</text>
<use href="#pl" x="320" y="3700"/>
</g>

<g id="YearOfConstruction">
<rect class="f" x="223" y="3725" width="125" height="38" rx="6"/><rect class="w" x="223" y="3725" width="125" height="20"/><path class="tc" d="M223.5 3745h37.5v17.5h-31.5a6 6 0 0 1-6-6z"/><rect class="o" x="223" y="3725" width="125" height="38" rx="6"/><path class="dv" d="M223 3745H348M261 3745V3763"/>
<text class="n" x="232" y="3739">YearOfConstruction</text><text class="n" x="229" y="3758">Type</text><text class="n" x="268" y="3758">xs:gYear</text>
<use href="#pl" x="358" y="3744"/>
<path class="bb" d="M229 3776h8l6-9l7 9h290a6 6 0 0 1 6 6v19a6 6 0 0 1-6 6h-311a6 6 0 0 1-6-6v-19a6 6 0 0 1 6-6z"/>
<text class="d" x="226" y="3789">Year in which construction was completed on the premise.</text><text class="d" x="226" y="3802">(CCYY)</text>
</g>

<g id="YearOccupied">
<rect class="f" x="223" y="3819" width="98" height="38" rx="6"/><rect class="w" x="223" y="3819" width="98" height="20"/><path class="tc" d="M223.5 3839h37.5v17.5h-31.5a6 6 0 0 1-6-6z"/><rect class="o" x="223" y="3819" width="98" height="38" rx="6"/><path class="dv" d="M223 3839H321M261 3839V3857"/>
<text class="n" x="232" y="3833">YearOccupied</text><text class="n" x="229" y="3852">Type</text><text class="n" x="268" y="3852">xs:gYear</text>
<use href="#pl" x="331" y="3838"/>
<path class="bb" d="M229 3871h8l6-9l7 9h233a6 6 0 0 1 6 6v7a6 6 0 0 1-6 6h-254a6 6 0 0 1-6-6v-7a6 6 0 0 1 6-6z"/>
<text class="d" x="226" y="3884">Year in which the premises was first occupied. (CCYY)</text>
</g>

<g id="YearOfLastEnergyAudit">
<rect class="f" x="223" y="3901" width="141" height="38" rx="6"/><rect class="w" x="223" y="3901" width="141" height="20"/><path class="tc" d="M223.5 3921h37.5v17.5h-31.5a6 6 0 0 1-6-6z"/><rect class="o" x="223" y="3901" width="141" height="38" rx="6"/><path class="dv" d="M223 3921H364M261 3921V3939"/>
<text class="n" x="232" y="3915">YearOfLastEnergyAudit</text><text class="n" x="229" y="3934">Type</text><text class="n" x="268" y="3934">xs:gYear</text>
<use href="#pl" x="374" y="3920"/>
<path class="bb" d="M229 3952h8l6-9l7 9h271a6 6 0 0 1 6 6v7a6 6 0 0 1-6 6h-292a6 6 0 0 1-6-6v-7a6 6 0 0 1 6-6z"/>
<text class="d" x="226" y="3965">Year of the most recent energy audit for this building. (CCYY)</text>
</g>

<g id="RetrocommissioningDate">
<rect class="f" x="223" y="3984" width="151" height="38" rx="6"/><rect class="w" x="223" y="3984" width="151" height="20"/><path class="tc" d="M223.5 4004h37.5v17.5h-31.5a6 6 0 0 1-6-6z"/><rect class="o" x="223" y="3984" width="151" height="38" rx="6"/><path class="dv" d="M223 4004H374M261 4004V4022"/>
<text class="n" x="232" y="3998">RetrocommissioningDate</text><text class="n" x="229" y="4017">Type</text><text class="n" x="268" y="4017">xs:date</text>
<use href="#pl" x="384" y="4003"/>
<path class="bb" d="M229 4035h8l6-9l7 9h316a6 6 0 0 1 6 6v19a6 6 0 0 1-6 6h-337a6 6 0 0 1-6-6v-19a6 6 0 0 1 6-6z"/>
<text class="d" x="226" y="4048">Date retro-commissioning or recommissioning was last conducted.</text><text class="d" x="226" y="4061">(CCYY-MM-DD)</text>
</g>

<g id="YearOfLatestRetrofit">
<rect class="f" x="223" y="4078" width="125" height="38" rx="6"/><rect class="w" x="223" y="4078" width="125" height="20"/><path class="tc" d="M223.5 4098h37.5v17.5h-31.5a6 6 0 0 1-6-6z"/><rect class="o" x="223" y="4078" width="125" height="38" rx="6"/><path class="dv" d="M223 4098H348M261 4098V4116"/>
<text class="n" x="232" y="4092">YearOfLatestRetrofit</text><text class="n" x="229" y="4111">Type</text><text class="n" x="268" y="4111">xs:gYear</text>
<use href="#pl" x="358" y="4097"/>
<path class="bb" d="M229 4129h8l6-9l7 9h291a6 6 0 0 1 6 6v20a6 6 0 0 1-6 6h-312a6 6 0 0 1-6-6v-20a6 6 0 0 1 6-6z"/>
<text class="d" x="226" y="4142">Year an energy retrofit of the building was last completed.</text><text class="d" x="226" y="4155">(CCYY)</text>
</g>

<g id="YearOfLastMajorRemodel">
<rect class="f" x="223" y="4173" width="151" height="38" rx="6"/><rect class="w" x="223" y="4173" width="151" height="20"/><path class="tc" d="M223.5 4193h37.5v17.5h-31.5a6 6 0 0 1-6-6z"/><rect class="o" x="223" y="4173" width="151" height="38" rx="6"/><path class="dv" d="M223 4193H374M261 4193V4211"/>
<text class="n" x="232" y="4187">YearOfLastMajorRemodel</text><text class="n" x="229" y="4206">Type</text><text class="n" x="268" y="4206">xs:gYear</text>
<use href="#pl" x="384" y="4192"/>
<path class="bb" d="M229 4224h8l6-9l7 9h316a6 6 0 0 1 6 6v20a6 6 0 0 1-6 6h-337a6 6 0 0 1-6-6v-20a6 6 0 0 1 6-6z"/>
<text class="d" x="226" y="4237">Year of the most recent major remodel. For a remodel to be</text><text class="d" x="226" y="4250">considered major, the work undertaken must have required a...</text>
</g>

<g id="PercentOccupiedByOwner">
<rect class="f" x="223" y="4268" width="184" height="38" rx="6"/><rect class="w" x="223" y="4268" width="184" height="20"/><path class="tc" d="M223.5 4288h37.5v17.5h-31.5a6 6 0 0 1-6-6z"/><rect class="o" x="223" y="4268" width="184" height="38" rx="6"/><path class="dv" d="M223 4288H407M261 4288V4306"/>
<text class="n" x="232" y="4282">PercentOccupiedByOwner</text><text class="n" x="229" y="4301">Type</text><text class="n" x="268" y="4301">Extension of 'xs:decimal'</text>
<use href="#pl" x="417" y="4287"/>
<path class="bb" d="M229 4319h8l6-9l7 9h348a6 6 0 0 1 6 6v20a6 6 0 0 1-6 6h-369a6 6 0 0 1-6-6v-20a6 6 0 0 1 6-6z"/>
<text class="d" x="226" y="4332">The percentage of gross floor area that is occupied by the owner of the</text><text class="d" x="226" y="4345">premises and affiliates. (0-100) (%)</text>
</g>

<g id="PercentLeasedByOwner">
<rect class="f" x="223" y="4363" width="184" height="38" rx="6"/><rect class="w" x="223" y="4363" width="184" height="20"/><path class="tc" d="M223.5 4383h37.5v17.5h-31.5a6 6 0 0 1-6-6z"/><rect class="o" x="223" y="4363" width="184" height="38" rx="6"/><path class="dv" d="M223 4383H407M261 4383V4401"/>
<text class="n" x="232" y="4377">PercentLeasedByOwner</text><text class="n" x="229" y="4396">Type</text><text class="n" x="268" y="4396">Extension of 'xs:decimal'</text>
<use href="#pl" x="417" y="4382"/>
<path class="bb" d="M229 4414h8l6-9l7 9h348a6 6 0 0 1 6 6v20a6 6 0 0 1-6 6h-369a6 6 0 0 1-6-6v-20a6 6 0 0 1 6-6z"/>
<text class="d" x="226" y="4427">The percentage of gross floor area that is leased by the owner of the</text><text class="d" x="226" y="4440">premises and affiliates. (0-100) (%)</text>
</g>

<g id="NumberOfFacilitiesOnSite">
<rect class="f" x="223" y="4458" width="180" height="38" rx="6"/><rect class="w" x="223" y="4458" width="180" height="20"/><path class="tc" d="M223.5 4478h37.5v17.5h-31.5a6 6 0 0 1-6-6z"/><rect class="o" x="223" y="4458" width="180" height="38" rx="6"/><path class="dv" d="M223 4478H403M261 4478V4496"/>
<text class="n" x="232" y="4472">NumberOfFacilitiesOnSite</text><text class="n" x="229" y="4491">Type</text><text class="n" x="268" y="4491">Extension of 'xs:integer'</text>
<use href="#pl" x="413" y="4477"/>
<path class="bb" d="M229 4509h8l6-9l7 9h146a6 6 0 0 1 6 6v7a6 6 0 0 1-6 6h-167a6 6 0 0 1-6-6v-7a6 6 0 0 1 6-6z"/>
<text class="d" x="226" y="4522">Number of facilities on the site.</text>
</g>

<g id="OperatorType">
<rect class="f" x="223" y="4540" width="179" height="38" rx="6"/><rect class="w" x="223" y="4540" width="179" height="20"/><path class="tc" d="M223.5 4560h37.5v17.5h-31.5a6 6 0 0 1-6-6z"/><rect class="o" x="223" y="4540" width="179" height="38" rx="6"/><path class="dv" d="M223 4560H402M261 4560V4578"/>
<text class="n" x="232" y="4554">OperatorType</text><text class="n" x="229" y="4573">Type</text><text class="n" x="268" y="4573">Restriction of 'xs:string'</text>
<use href="#pl" x="412" y="4559"/>
<path class="bb" d="M229 4591h8l6-9l7 9h217a6 6 0 0 1 6 6v7a6 6 0 0 1-6 6h-238a6 6 0 0 1-6-6v-7a6 6 0 0 1 6-6z"/>
<text class="d" x="226" y="4604">Entity responsible for the operation of the facility.</text>
</g>

<g id="Sections">
<rect class="s" x="223" y="4623" width="61" height="20" rx="6"/>
<text class="n" x="232" y="4637">Sections</text>
<use href="#pl" x="294" y="4633"/>
</g>

<g id="UserDefinedFields">
<rect class="s" x="223" y="4656" width="136" height="20" rx="6"/>
<text class="n" x="232" y="4670">auc:UserDefinedFields</text>
<use href="#pl" x="369" y="4666"/><use href="#lk" x="353" y="4670"/>
</g>
</svg>
